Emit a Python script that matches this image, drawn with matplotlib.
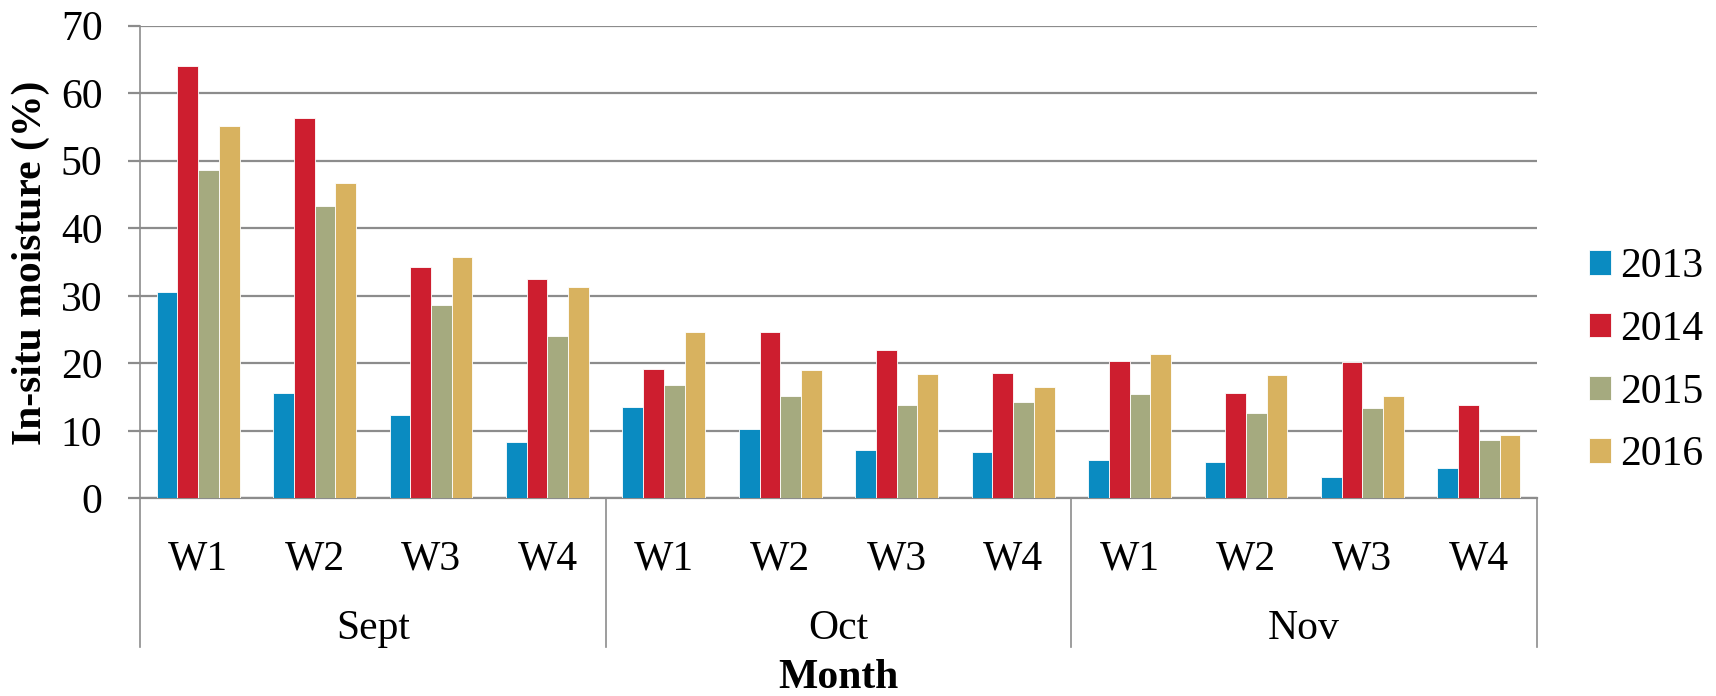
import matplotlib
matplotlib.use("Agg")
import matplotlib.pyplot as plt
import matplotlib.transforms as mtransforms
import numpy as np

plt.rcParams['font.family'] = ['Liberation Serif', 'DejaVu Serif']

months = ["Sept", "Oct", "Nov"]
weeks = ["W1", "W2", "W3", "W4"]
years = ["2013", "2014", "2015", "2016"]

moist_2013 = [30.5, 15.6, 12.4, 8.4, 13.5, 10.2, 7.2, 6.8, 5.6, 5.4, 3.1, 4.5]
moist_2014 = [64.1, 56.3, 34.2, 32.5, 19.2, 24.6, 21.9, 18.5, 20.4, 15.6, 20.2, 13.8]
moist_2015 = [48.6, 43.3, 28.7, 24.1, 16.8, 15.2, 13.8, 14.2, 15.4, 12.7, 13.4, 8.6]
moist_2016 = [55.2, 46.7, 35.8, 31.3, 24.6, 19.0, 18.4, 16.5, 21.3, 18.2, 15.2, 9.4]

series = [moist_2013, moist_2014, moist_2015, moist_2016]
colors = ["#0A8BC1", "#CD1E2F", "#A5AA7F", "#D8B25F"]

fig = plt.figure(figsize=(17.16, 6.96), dpi=100)
ax = fig.add_axes([140 / 1716, 1 - 498.3 / 696, 1397 / 1716, 472.6 / 696])

n_groups = len(months) * len(weeks)
x = np.arange(n_groups)
bw = 0.178
for i, (vals, c, yr) in enumerate(zip(series, colors, years)):
    ax.bar(x + (i - 1.5) * bw, vals, width=bw, color=c, edgecolor="white",
           linewidth=0.6, label=yr, zorder=3)

grid_c = "#8C8C8C"
ax.set_ylim(0, 70)
ax.set_xlim(-0.5, n_groups - 0.5)
ax.set_yticks(np.arange(0, 71, 10))
ax.yaxis.grid(True, color=grid_c, linewidth=1.6, zorder=0)
ax.set_axisbelow(True)
for s in ["top", "right"]:
    ax.spines[s].set_visible(False)
ax.spines["left"].set_color(grid_c)
ax.spines["left"].set_linewidth(1.2)
ax.spines["bottom"].set_color(grid_c)
ax.spines["bottom"].set_linewidth(1.6)
ax.tick_params(axis="y", length=9, width=1.6, color=grid_c, pad=18,
               labelsize=30)

ax.set_xticks(x)
ax.set_xticklabels(weeks * len(months))
ax.tick_params(axis="x", length=0, labelsize=30, pad=30)

trans = mtransforms.blended_transform_factory(ax.transData, ax.transAxes)
for k in range(len(months) + 1):
    xs = k * len(weeks) - 0.5
    ax.plot([xs, xs], [0, -0.3146], transform=trans, color=grid_c,
            linewidth=1.2, clip_on=False)
for k, m in enumerate(months):
    ax.text(k * len(weeks) + 1.5, -0.276, m, transform=trans, ha="center",
            va="center", fontsize=30)

fig.text(31 / 1716, 1 - 263 / 696, "In-situ moisture (%)", rotation=90,
         ha="center", va="center", fontsize=30, fontweight="bold")
fig.text(ax.get_position().x0 + ax.get_position().width * 0.5, 1 - 678 / 696,
         "Month", ha="center", va="center", fontsize=30, fontweight="bold")

fig.legend(loc="center left", bbox_to_anchor=(1572 / 1716, 1 - 361 / 696),
           frameon=False, fontsize=30, handlelength=0.53, handleheight=0.53,
           handletextpad=0.22, labelspacing=0.58, borderaxespad=0)

fig.savefig("out.png", dpi=100)
